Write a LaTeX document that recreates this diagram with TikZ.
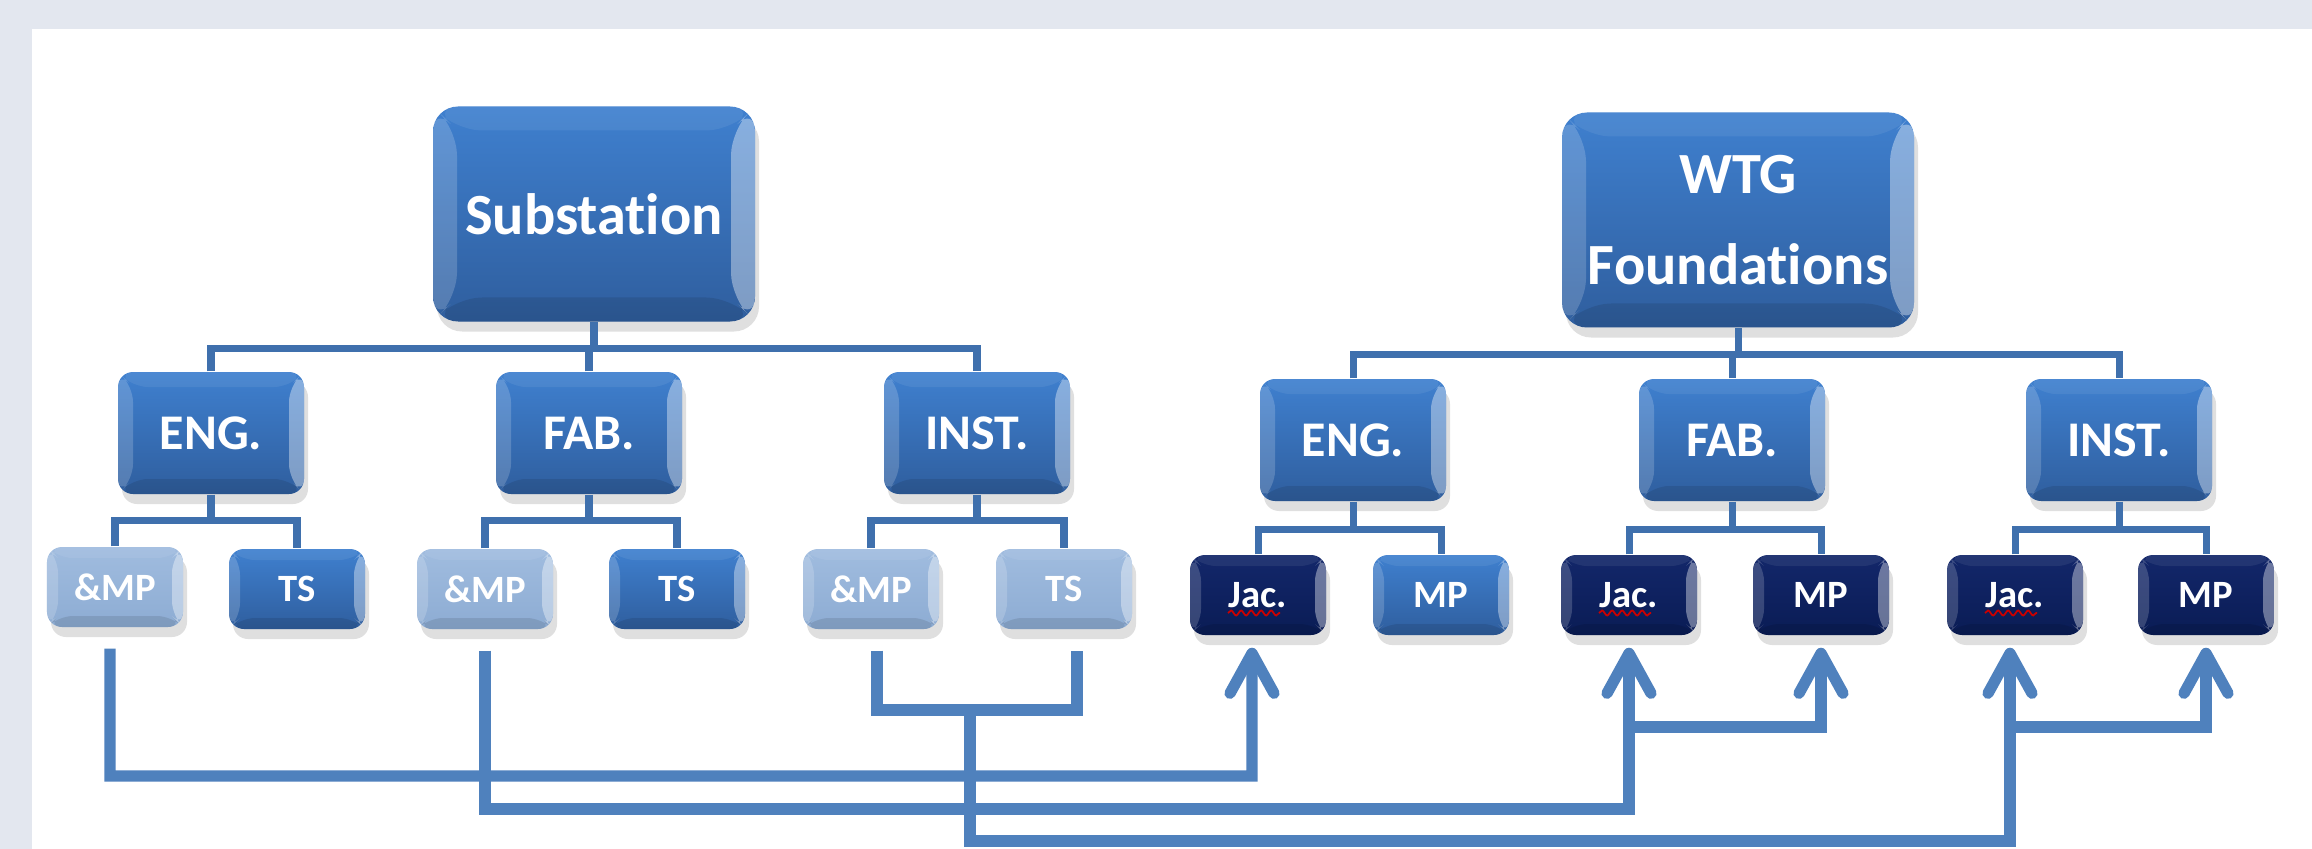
\documentclass[tikz,border=0pt]{standalone}
\usepackage{fontspec}
\setmainfont{Carlito}[Ligatures=NoCommon]
\usetikzlibrary{arrows.meta,positioning,shadows,decorations.pathmorphing}
\definecolor{pagebg}{HTML}{E3E7EF}
\definecolor{boxtop}{HTML}{3F80CF}
\definecolor{boxbot}{HTML}{2F5E9E}
\definecolor{paletop}{HTML}{A0BCDF}
\definecolor{palebot}{HTML}{8DACD3}
\definecolor{navytop}{HTML}{13276A}
\definecolor{navybot}{HTML}{0A1C55}
\definecolor{treeline}{HTML}{3F70AD}
\definecolor{feedline}{HTML}{4F81BD}

\tikzset{
  bevel/.style={path picture={
    \path (path picture bounding box.south west) coordinate (pbl)
          (path picture bounding box.north west) coordinate (ptl)
          (path picture bounding box.north east) coordinate (ptr)
          (path picture bounding box.south east) coordinate (pbr);
    \fill[white,opacity=.07] (ptl) -- (ptr) -- ([shift={(-#1,-#1)}]ptr) -- ([shift={(#1,-#1)}]ptl) -- cycle;
    \fill[black,opacity=.1] (pbl) -- (pbr) -- ([shift={(-#1,#1)}]pbr) -- ([shift={(#1,#1)}]pbl) -- cycle;
    \fill[white,opacity=.18] (pbl) -- (ptl) -- ([shift={(#1,-#1)}]ptl) -- ([shift={(#1,#1)}]pbl) -- cycle;
    \fill[white,opacity=.38] (pbr) -- (ptr) -- ([shift={(-#1,-#1)}]ptr) -- ([shift={(-#1,#1)}]pbr) -- cycle;
  }},
  tile/.style={rectangle, rounded corners=1.5mm, inner sep=0pt, text=white,
    top color=boxtop, bottom color=boxbot,
    drop shadow={opacity=.25, shadow xshift=.4mm, shadow yshift=-1mm}},
  rootbox/.style={tile, minimum width=3.22cm, minimum height=2.15cm, rounded corners=2.5mm,
    bevel=2.4mm, align=center, font=\bfseries\fontsize{16.6}{26}\selectfont},
  midbox/.style={tile, minimum width=1.86cm, minimum height=1.22cm, bevel=1.5mm,
    font=\bfseries\fontsize{14.2}{17}\selectfont},
  leafbox/.style={tile, minimum width=1.36cm, minimum height=.8cm, bevel=1.1mm,
    font=\bfseries\fontsize{11}{13}\selectfont},
  leafpale/.style={leafbox, top color=paletop, bottom color=palebot},
  leafnavy/.style={leafbox, top color=navytop, bottom color=navybot},
  tree/.style={draw=treeline, line width=2pt},
  feed/.style={draw=feedline, line width=3.2pt},
  uparrow/.style={-{Straight Barb[length=4mm,width=4.4mm,round]}},
  squiggle/.style={draw=red!80!black, line width=.5pt, decorate,
    decoration={snake, segment length=1mm, amplitude=.25mm}}
}

\begin{document}
\begin{tikzpicture}
  \fill[pagebg] (0,0) rectangle (23.12,-8.49);
  \fill[white] (0.32,-0.29) rectangle (23.12,-8.49);
  \useasboundingbox (0,0) rectangle (23.12,-8.49);

  % substation tree
  \node[rootbox] (sub) at (5.94,-2.14) {Substation};
  \node[midbox] (seng) at (2.11,-4.33) {ENG.};
  \node[midbox] (sfab) at (5.89,-4.33) {FAB.};
  \node[midbox] (sinst) at (9.77,-4.33) {INST.};
  \node[leafpale] (smp1) at (1.15,-5.87) {\&MP};
  \node[leafbox] (sts1) at (2.97,-5.89) {TS};
  \node[leafpale] (smp2) at (4.85,-5.89) {\&MP};
  \node[leafbox] (sts2) at (6.77,-5.89) {TS};
  \node[leafpale] (smp3) at (8.71,-5.89) {\&MP};
  \node[leafpale] (sts3) at (10.64,-5.89) {TS};

  % wtg tree
  \node[rootbox, minimum width=3.52cm] (wtg) at (17.38,-2.20) {WTG\\Foundations};
  \node[midbox] (weng) at (13.53,-4.40) {ENG.};
  \node[midbox] (wfab) at (17.32,-4.40) {FAB.};
  \node[midbox] (winst) at (21.19,-4.40) {INST.};
  \node[leafnavy] (wjac1) at (12.58,-5.95) {Jac.};
  \node[leafbox] (wmp1) at (14.41,-5.95) {MP};
  \node[leafnavy] (wjac2) at (16.29,-5.95) {Jac.};
  \node[leafnavy] (wmp2) at (18.21,-5.95) {MP};
  \node[leafnavy] (wjac3) at (20.15,-5.95) {Jac.};
  \node[leafnavy] (wmp3) at (22.06,-5.95) {MP};
  \draw[squiggle] ([xshift=-3mm,yshift=-1.8mm]wjac1.center) -- ++(5.2mm,0);
  \draw[squiggle] ([xshift=-3mm,yshift=-1.8mm]wjac2.center) -- ++(5.2mm,0);
  \draw[squiggle] ([xshift=-3mm,yshift=-1.8mm]wjac3.center) -- ++(5.2mm,0);

  % hierarchy lines
  \draw[tree] (sub.south) -- ++(0,-2.6mm);
  \draw[tree] (seng.north) |- ([yshift=-2.6mm]sub.south) -| (sinst.north);
  \draw[tree] (sfab.north) |- ([yshift=-2.6mm]sub.south);
  \draw[tree] (wtg.south) -- ++(0,-2.6mm);
  \draw[tree] (weng.north) |- ([yshift=-2.6mm]wtg.south) -| (winst.north);
  \draw[tree] (wfab.north) |- ([yshift=-2.6mm]wtg.south);
  \draw[tree] (seng.south) -- ++(0,-2.6mm);
  \draw[tree] (smp1.north) |- ([yshift=-2.6mm]seng.south) -| (sts1.north);
  \draw[tree] (sfab.south) -- ++(0,-2.6mm);
  \draw[tree] (smp2.north) |- ([yshift=-2.6mm]sfab.south) -| (sts2.north);
  \draw[tree] (sinst.south) -- ++(0,-2.6mm);
  \draw[tree] (smp3.north) |- ([yshift=-2.6mm]sinst.south) -| (sts3.north);
  \draw[tree] (weng.south) -- ++(0,-2.8mm);
  \draw[tree] (wjac1.north) |- ([yshift=-2.8mm]weng.south) -| (wmp1.north);
  \draw[tree] (wfab.south) -- ++(0,-2.8mm);
  \draw[tree] (wjac2.north) |- ([yshift=-2.8mm]wfab.south) -| (wmp2.north);
  \draw[tree] (winst.south) -- ++(0,-2.8mm);
  \draw[tree] (wjac3.north) |- ([yshift=-2.8mm]winst.south) -| (wmp3.north);

  % feeds from substation to foundations
  \coordinate (runA) at (1.10,-7.76);
  \coordinate (runB) at (4.85,-8.09);
  \coordinate (join) at (9.70,-7.10);
  \coordinate (runC) at (9.70,-8.41);
  \coordinate (fork) at (0,-7.27);
  \draw[feed,uparrow] ([xshift=-.5mm,yshift=-2.1mm]smp1.south) -- (runA) -| ([xshift=-.6mm,yshift=-1.2mm]wjac1.south);
  \draw[feed,uparrow] ([yshift=-2.1mm]smp2.south) -- (runB) -| ([yshift=-1.2mm]wjac2.south);
  \draw[feed,uparrow] (wjac2 |- fork) -| ([yshift=-1.2mm]wmp2.south);
  \draw[feed] ([xshift=.6mm,yshift=-2.1mm]smp3.south) |- (join) -| ([xshift=1.3mm,yshift=-2.1mm]sts3.south);
  \draw[feed,uparrow] (join) -- (runC) -| ([xshift=-.5mm,yshift=-1.2mm]wjac3.south);
  \draw[feed,uparrow] ([xshift=-.5mm]wjac3 |- fork) -| ([yshift=-1.2mm]wmp3.south);
\end{tikzpicture}
\end{document}
